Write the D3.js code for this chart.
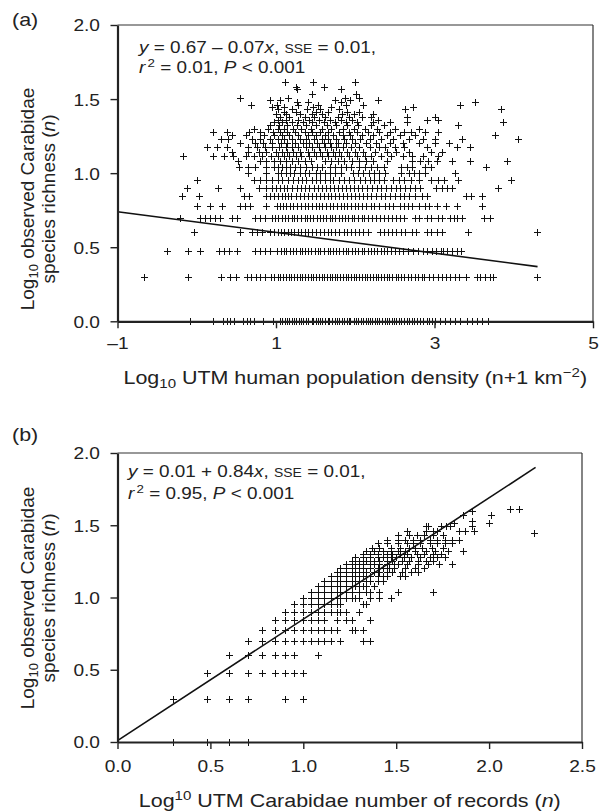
<!DOCTYPE html>
<html>
<head>
<meta charset="utf-8">
<style>
  body { margin: 0; background: #fff; }
  svg { font-family: "Liberation Sans", Arial, Helvetica, sans-serif; }
  .axis text { font-size: 16.5px; fill: #222; }
  .axis .domain { stroke: #222; stroke-width: 2.2; }
  .axis .tick line { stroke: #222; stroke-width: 1.4; }
  .mark { stroke: #111; stroke-width: 1; fill: none; }
</style>
</head>
<body>
<svg id="chart" width="599" height="811"></svg>
<script src="https://d3js.org/d3.v7.min.js"></script>
<script>
// ---- panel (a): species richness (count) per row, log10 population density per point
const aRichness = [1, 2, 3, 4, 5, 6, 7, 8, 9, 10, 11, 12, 13, 14, 15, 16, 17, 18, 19, 20,
  21, 22, 23, 24, 25, 26, 27, 28, 29, 30, 31, 32, 34, 37, 38, 41];
const aDensity = [
  [-0.09, 0.21, 0.33, 0.38, 0.42, 0.47, 0.58, 0.63, 0.67, 0.72, 0.84, 0.96, 1.05, 1.07, 1.11, 1.14, 1.16, 1.2, 1.23, 1.25,
    1.29, 1.32, 1.34, 1.38, 1.41, 1.45, 1.47, 1.5, 1.53, 1.56, 1.58, 1.62, 1.65, 1.67, 1.71, 1.74, 1.77, 1.79, 1.83, 1.86,
    1.89, 1.92, 1.94, 1.98, 2.01, 2.03, 2.07, 2.1, 2.13, 2.16, 2.19, 2.21, 2.25, 2.28, 2.3, 2.34, 2.37, 2.4, 2.42, 2.46,
    2.49, 2.52, 2.55, 2.58, 2.61, 2.65, 2.68, 2.72, 2.74, 2.78, 2.82, 2.85, 2.9, 2.93, 2.97, 3.0, 3.07, 3.13, 3.2, 3.26,
    3.32, 3.41, 3.47, 3.53, 3.6, 3.68],
  [-0.67, -0.11, 0.31, 0.42, 0.5, 0.64, 0.69, 0.75, 0.8, 0.86, 0.94, 0.98, 1.02, 1.05, 1.09, 1.13, 1.16, 1.19, 1.23, 1.27,
    1.3, 1.33, 1.36, 1.4, 1.44, 1.47, 1.5, 1.54, 1.58, 1.6, 1.64, 1.68, 1.71, 1.74, 1.77, 1.81, 1.85, 1.88, 1.91, 1.95,
    1.98, 2.01, 2.05, 2.09, 2.12, 2.15, 2.18, 2.22, 2.26, 2.29, 2.33, 2.36, 2.4, 2.43, 2.47, 2.51, 2.54, 2.58, 2.62, 2.66,
    2.7, 2.75, 2.79, 2.84, 2.87, 2.93, 2.98, 3.04, 3.1, 3.15, 3.2, 3.26, 3.31, 3.4, 3.53, 3.58, 3.64, 3.7, 3.74, 4.29],
  [-0.38, -0.11, 0.04, 0.28, 0.34, 0.41, 0.51, 0.74, 0.8, 0.86, 0.93, 1.01, 1.06, 1.1, 1.13, 1.18, 1.22, 1.25, 1.3, 1.33,
    1.37, 1.41, 1.44, 1.49, 1.53, 1.56, 1.6, 1.65, 1.68, 1.72, 1.76, 1.79, 1.84, 1.88, 1.91, 1.96, 2.0, 2.04, 2.08, 2.11,
    2.16, 2.2, 2.24, 2.27, 2.32, 2.36, 2.4, 2.45, 2.5, 2.55, 2.6, 2.66, 2.73, 2.79, 2.85, 2.91, 2.97, 3.02, 3.08, 3.11,
    3.16, 3.22, 3.28, 3.34],
  [-0.04, 0.55, 0.7, 0.76, 0.82, 0.92, 0.97, 1.02, 1.06, 1.1, 1.15, 1.19, 1.23, 1.28, 1.32, 1.36, 1.41, 1.45, 1.5, 1.55,
    1.61, 1.66, 1.7, 1.75, 1.8, 1.86, 1.9, 1.95, 2.0, 2.05, 2.1, 2.16, 2.31, 2.36, 2.41, 2.47, 2.52, 2.58, 2.63, 2.71,
    2.77, 2.9, 2.96, 3.03, 3.09, 3.42, 4.29],
  [-0.21, 0.04, 0.1, 0.17, 0.23, 0.29, 0.44, 0.51, 0.74, 0.8, 0.86, 0.95, 0.99, 1.03, 1.07, 1.11, 1.15, 1.2, 1.23, 1.27,
    1.31, 1.36, 1.39, 1.43, 1.47, 1.52, 1.55, 1.59, 1.63, 1.68, 1.71, 1.75, 1.8, 1.83, 1.87, 1.91, 1.96, 1.99, 2.03, 2.08,
    2.11, 2.16, 2.21, 2.26, 2.31, 2.36, 2.41, 2.46, 2.51, 2.56, 2.62, 2.75, 2.81, 2.9, 2.95, 3.04, 3.1, 3.19, 3.24, 3.29,
    3.35, 3.63, 3.7],
  [0.0, 0.17, 0.32, 0.55, 0.61, 0.67, 0.88, 1.01, 1.05, 1.09, 1.13, 1.18, 1.22, 1.27, 1.32, 1.36, 1.4, 1.45, 1.5, 1.54,
    1.58, 1.63, 1.68, 1.72, 1.77, 1.82, 1.86, 1.9, 1.95, 2.0, 2.04, 2.09, 2.14, 2.2, 2.24, 2.3, 2.38, 2.43, 2.48, 2.56,
    2.62, 2.66, 2.72, 2.8, 2.88, 2.93, 3.03, 3.15, 3.28, 3.6],
  [-0.19, 0.03, 0.6, 0.66, 0.88, 0.93, 0.98, 1.03, 1.07, 1.11, 1.15, 1.19, 1.25, 1.3, 1.35, 1.4, 1.45, 1.5, 1.55, 1.6,
    1.65, 1.7, 1.75, 1.8, 1.85, 1.9, 1.95, 2.0, 2.05, 2.1, 2.15, 2.2, 2.26, 2.32, 2.38, 2.44, 2.5, 2.56, 2.62, 2.68,
    2.75, 2.84, 2.9, 3.4, 3.46, 3.6],
  [-0.12, 0.27, 0.55, 0.78, 0.88, 0.95, 1.0, 1.05, 1.1, 1.14, 1.2, 1.27, 1.32, 1.37, 1.42, 1.48, 1.53, 1.58, 1.63, 1.68,
    1.73, 1.78, 1.83, 1.88, 1.93, 1.98, 2.03, 2.09, 2.15, 2.21, 2.27, 2.33, 2.39, 2.45, 2.51, 2.57, 2.63, 2.69, 2.75, 2.82,
    3.02, 3.1, 3.16, 3.22, 3.8],
  [0.0, 0.72, 0.8, 0.88, 0.95, 1.02, 1.08, 1.15, 1.22, 1.28, 1.33, 1.38, 1.45, 1.5, 1.56, 1.62, 1.68, 1.72, 1.8, 1.86,
    1.92, 1.98, 2.06, 2.12, 2.18, 2.24, 2.3, 2.36, 2.48, 2.55, 2.62, 2.7, 2.8, 2.96, 3.04, 3.12, 3.3, 3.96],
  [0.65, 0.88, 1.02, 1.06, 1.12, 1.18, 1.23, 1.3, 1.36, 1.42, 1.5, 1.56, 1.62, 1.68, 1.75, 1.82, 1.97, 2.03, 2.1, 2.17,
    2.24, 2.3, 2.37, 2.58, 2.68, 2.74, 2.8, 2.88, 3.26],
  [0.53, 0.65, 0.74, 0.88, 0.97, 1.02, 1.07, 1.12, 1.18, 1.24, 1.3, 1.38, 1.45, 1.52, 1.58, 1.68, 1.75, 1.82, 1.88, 1.95,
    2.05, 2.12, 2.2, 2.28, 2.36, 2.58, 2.65, 2.72, 2.88, 2.95, 3.65],
  [0.52, 0.8, 0.88, 0.97, 1.05, 1.12, 1.2, 1.28, 1.36, 1.44, 1.62, 1.7, 1.78, 1.86, 1.96, 2.05, 2.14, 2.22, 2.4, 2.72,
    2.82, 2.92, 3.03, 3.22, 3.45, 3.91],
  [-0.17, 0.21, 0.34, 0.46, 0.62, 0.72, 0.82, 0.94, 1.03, 1.1, 1.16, 1.25, 1.32, 1.42, 1.5, 1.58, 1.66, 1.74, 1.82, 1.92,
    2.02, 2.12, 2.2, 2.32, 2.45, 2.6, 2.72, 2.86, 3.05],
  [0.44, 0.65, 0.78, 0.88, 1.0, 1.08, 1.14, 1.22, 1.3, 1.4, 1.48, 1.55, 1.64, 1.72, 1.8, 1.9, 2.0, 2.1, 2.25, 2.4,
    2.52, 2.68, 2.95, 3.1],
  [0.13, 0.25, 0.38, 0.65, 0.76, 0.86, 0.95, 1.04, 1.12, 1.2, 1.28, 1.38, 1.46, 1.54, 1.62, 1.7, 1.76, 1.84, 1.95, 2.05,
    2.18, 2.3, 2.38, 2.5, 2.62, 2.9, 3.28, 3.45],
  [0.55, 0.74, 0.84, 0.95, 1.06, 1.14, 1.24, 1.34, 1.42, 1.52, 1.6, 1.68, 1.78, 1.88, 2.0, 2.14, 2.26, 2.44, 2.6, 2.8,
    3.0, 3.18],
  [0.31, 0.4, 0.7, 0.8, 0.92, 1.02, 1.1, 1.2, 1.3, 1.38, 1.48, 1.58, 1.66, 1.76, 1.86, 1.96, 2.06, 2.18, 2.32, 2.48,
    2.68, 2.86, 3.0, 3.35, 4.05],
  [0.45, 0.62, 0.85, 0.98, 1.08, 1.16, 1.28, 1.4, 1.5, 1.62, 1.72, 1.84, 1.94, 2.08, 2.22, 2.4, 2.56, 2.75, 3.76],
  [0.2, 0.38, 0.66, 0.8, 0.96, 1.05, 1.14, 1.24, 1.36, 1.46, 1.56, 1.66, 1.8, 1.92, 2.02, 2.16, 2.3, 2.44, 2.62, 2.7,
    2.88, 3.05],
  [0.72, 0.9, 1.02, 1.1, 1.22, 1.32, 1.44, 1.58, 1.7, 1.84, 1.98, 2.12, 2.28, 2.5, 2.8],
  [0.92, 1.04, 1.14, 1.26, 1.38, 1.5, 1.64, 1.76, 1.9, 2.04, 2.2, 2.36, 3.3],
  [0.98, 1.08, 1.2, 1.34, 1.46, 1.6, 1.74, 1.88, 2.02, 2.23, 2.44, 2.65, 3.86],
  [1.02, 1.12, 1.28, 1.42, 1.54, 1.68, 1.82, 1.96, 2.29, 2.9, 3.05],
  [1.05, 1.16, 1.36, 1.48, 1.62, 1.78, 1.92, 2.08, 2.2, 2.65, 3.0],
  [1.0, 1.12, 1.3, 1.45, 1.58, 1.83, 1.98, 2.23],
  [1.1, 1.25, 1.5, 1.65, 1.9, 2.05],
  [1.02, 1.2, 1.39, 1.56, 1.79, 2.63, 3.84],
  [0.95, 1.1, 1.47, 1.7, 2.73],
  [0.69, 1.01, 1.28, 1.53, 1.88, 2.1, 3.32],
  [1.26, 1.4, 1.82, 3.51],
  [0.92, 1.05, 1.75, 1.94, 2.29],
  [0.55, 1.15, 1.87, 2.05],
  [1.45, 2.01],
  [1.26, 1.82],
  [1.25, 1.6],
  [1.11, 1.47, 2.0]
];
const aFit = { intercept: 0.67, slope: -0.07, from: -1, to: 4.3 };
const aXTicks = [-1, 1, 3, 5];

// ---- panel (b): species richness (count) per row, log10 number of records per point
const bRichness = [1, 2, 3, 4, 5, 6, 7, 8, 9, 10, 11, 12, 13, 14, 15, 16, 17, 18, 19, 20,
  21, 22, 24, 25, 27, 28, 29, 31, 33, 34, 37, 40, 41];
const bRecords = [
  [0.3, 0.48, 0.6, 0.7],
  [0.3, 0.48, 0.6, 0.7, 0.9, 1.0],
  [0.48, 0.6, 0.7, 0.78, 0.85, 0.9, 0.95, 1.0],
  [0.6, 0.7, 0.78, 0.85, 0.9, 0.95, 1.08],
  [0.7, 0.78, 0.85, 0.9, 0.95, 1.0, 1.04, 1.08, 1.11, 1.15, 1.2, 1.32, 1.36],
  [0.78, 0.85, 0.9, 0.95, 1.0, 1.04, 1.08, 1.11, 1.15, 1.18, 1.26, 1.28, 1.32],
  [0.85, 0.9, 0.95, 1.0, 1.04, 1.08, 1.11, 1.18, 1.23, 1.26, 1.36],
  [0.9, 0.95, 1.0, 1.04, 1.08, 1.11, 1.15, 1.18, 1.2, 1.23, 1.3],
  [0.95, 1.0, 1.04, 1.08, 1.11, 1.15, 1.18, 1.2, 1.32, 1.34],
  [1.0, 1.04, 1.08, 1.11, 1.15, 1.18, 1.2, 1.23, 1.26, 1.28, 1.3, 1.36, 1.41, 1.47],
  [1.04, 1.08, 1.11, 1.15, 1.18, 1.2, 1.23, 1.26, 1.3, 1.34, 1.36, 1.41, 1.51, 1.7],
  [1.08, 1.11, 1.15, 1.18, 1.2, 1.23, 1.26, 1.28, 1.3, 1.32, 1.34, 1.38],
  [1.11, 1.15, 1.18, 1.2, 1.23, 1.26, 1.28, 1.3, 1.34, 1.36, 1.4, 1.43],
  [1.15, 1.18, 1.2, 1.23, 1.26, 1.28, 1.3, 1.32, 1.36, 1.4, 1.43, 1.45, 1.52, 1.55],
  [1.18, 1.2, 1.23, 1.26, 1.28, 1.3, 1.34, 1.38, 1.41, 1.45, 1.48, 1.53, 1.58, 1.62],
  [1.2, 1.23, 1.26, 1.3, 1.32, 1.36, 1.4, 1.43, 1.46, 1.49, 1.55, 1.6, 1.65],
  [1.23, 1.26, 1.28, 1.32, 1.36, 1.38, 1.41, 1.45, 1.49, 1.51, 1.56, 1.62, 1.67, 1.73, 1.8],
  [1.26, 1.3, 1.34, 1.38, 1.41, 1.45, 1.48, 1.53, 1.57, 1.62, 1.66, 1.7],
  [1.28, 1.32, 1.36, 1.4, 1.43, 1.47, 1.5, 1.54, 1.58, 1.63, 1.68, 1.72, 1.76],
  [1.32, 1.36, 1.4, 1.45, 1.48, 1.52, 1.56, 1.61, 1.65, 1.7, 1.74],
  [1.34, 1.38, 1.43, 1.47, 1.51, 1.55, 1.6, 1.66, 1.71, 1.78, 1.86],
  [1.37, 1.41, 1.47, 1.52, 1.57, 1.6, 1.64, 1.69, 1.75],
  [1.4, 1.45, 1.51, 1.56, 1.59, 1.63, 1.68, 1.72, 1.76, 1.8],
  [1.45, 1.51, 1.55, 1.59, 1.63, 1.68, 1.72, 1.76, 1.8, 1.84],
  [1.51, 1.57, 1.61, 1.65, 1.7, 1.75],
  [2.24],
  [1.56, 1.66, 1.7, 1.72, 1.84, 1.87, 1.92],
  [1.66, 1.67, 1.74, 1.77, 1.79, 1.91],
  [1.81, 2.0],
  [1.91],
  [1.86, 2.01],
  [1.91],
  [2.11, 2.16]
];
const bFit = { intercept: 0.01, slope: 0.84, from: 0, to: 2.25 };
const bXTicks = [0, 0.5, 1, 1.5, 2, 2.5];
const yTicks = [0, 0.5, 1, 1.5, 2];

const svg = d3.select("#chart");
const STRETCH = 1.16; // horizontal text stretch seen in the original

function toPoints(richness, rows) {
  const pts = [];
  richness.forEach((k, i) => {
    rows[i].forEach(x => pts.push({ x: x, y: Math.log10(k) }));
  });
  return pts;
}

function label(x, y, size, anchor) {
  return svg.append("text")
    .attr("transform", "translate(" + x + "," + y + ") scale(" + STRETCH + ",1)")
    .attr("text-anchor", anchor || "start")
    .attr("font-size", size).attr("fill", "#222");
}

function drawPanel(opt) {
  const x = d3.scaleLinear().domain(opt.xDomain).range([opt.left, opt.right]);
  const y = d3.scaleLinear().domain([0, 2]).range([opt.bottom, opt.top]);
  const g = svg.append("g");

  // thin frame on top and right
  g.append("line").attr("x1", opt.left).attr("x2", opt.right).attr("y1", opt.top).attr("y2", opt.top)
    .attr("stroke", "#333").attr("stroke-width", 1.2);
  g.append("line").attr("x1", opt.right).attr("x2", opt.right).attr("y1", opt.top).attr("y2", opt.bottom)
    .attr("stroke", "#333").attr("stroke-width", 1.2);

  // points as "+" marks, snapped to the pixel grid
  g.selectAll("path.mark")
    .data(opt.points)
    .join("path")
    .attr("class", "mark")
    .attr("d", d => {
      const px = Math.round(x(d.x)) + 0.5, py = Math.round(y(d.y)) + 0.5;
      return "M" + (px - 3.5) + "," + py + "h7M" + px + "," + (py - 3.5) + "v7";
    });

  // fitted line
  g.append("line")
    .attr("x1", x(opt.fit.from)).attr("y1", y(opt.fit.intercept + opt.fit.slope * opt.fit.from))
    .attr("x2", x(opt.fit.to)).attr("y2", y(opt.fit.intercept + opt.fit.slope * opt.fit.to))
    .attr("stroke", "#111").attr("stroke-width", 1.6);

  g.append("g").attr("class", "axis")
    .attr("transform", "translate(" + opt.left + ",0)")
    .call(d3.axisLeft(y).tickValues(yTicks).tickFormat(d3.format(".1f")).tickSize(7).tickSizeOuter(0))
    .selectAll(".tick text")
    .attr("x", -17.5 / STRETCH).attr("dy", "0.36em")
    .attr("transform", "scale(" + STRETCH + ",1)");

  g.append("g").attr("class", "axis")
    .attr("transform", "translate(0," + opt.bottom + ")")
    .call(d3.axisBottom(x).tickValues(opt.xTicks).tickFormat(opt.xFormat).tickSize(7).tickSizeOuter(0).tickPadding(opt.xPad))
    .selectAll(".tick text")
    .attr("transform", "scale(" + STRETCH + ",1)");

  // panel letter
  label(12, opt.letterY, 18.5).text(opt.letter);

  // equation text
  const eq = label(opt.eqX, opt.eqY1, 16.3);
  eq.append("tspan").attr("font-style", "italic").text("y");
  eq.append("tspan").text(opt.eq1);
  eq.append("tspan").attr("font-style", "italic").text("x");
  eq.append("tspan").text(", ");
  eq.append("tspan").attr("font-size", 12).text("SSE");
  eq.append("tspan").text(" = 0.01,");

  const eq2 = label(opt.eqX, opt.eqY2, 16.3);
  eq2.append("tspan").attr("font-style", "italic").text("r");
  eq2.append("tspan").attr("font-size", 11.5).attr("dy", -6).attr("dx", 2).text("2");
  eq2.append("tspan").attr("dy", 6).text(" = " + opt.r2 + ", ");
  eq2.append("tspan").attr("font-style", "italic").text("P");
  eq2.append("tspan").text(" < 0.001");

  // y title (two rotated lines)
  const cy = opt.yTitleCenter;
  const t1 = svg.append("text").attr("transform", "translate(34," + cy + ") rotate(-90)")
    .attr("text-anchor", "middle").attr("font-size", 19).attr("fill", "#222");
  t1.append("tspan").text("Log");
  t1.append("tspan").attr("font-size", 13).attr("dy", 4).text("10");
  t1.append("tspan").attr("dy", -4).text(" observed Carabidae");
  const t2 = svg.append("text").attr("transform", "translate(55," + cy + ") rotate(-90)")
    .attr("text-anchor", "middle").attr("font-size", 19).attr("fill", "#222");
  t2.append("tspan").text("species richness (");
  t2.append("tspan").attr("font-style", "italic").text("n");
  t2.append("tspan").text(")");

  // x title
  const xt = label((opt.left + opt.right) / 2, opt.xTitleY, 18.5, "middle");
  opt.xTitle(xt);
}

drawPanel({
  letter: "(a)", letterY: 26, left: 117.5, right: 593, top: 25, bottom: 321.3,
  xDomain: [-1, 5], xTicks: aXTicks, xPad: 9,
  xFormat: d => d < 0 ? "\u2013" + Math.abs(d) : String(d),
  points: toPoints(aRichness, aDensity), fit: aFit,
  eqX: 139, eqY1: 53, eqY2: 73, eq1: " = 0.67 \u2013 0.07", r2: "0.01",
  yTitleCenter: 199, xTitleY: 384,
  xTitle: t => {
    t.append("tspan").text("Log");
    t.append("tspan").attr("font-size", 13).attr("dy", 4).text("10");
    t.append("tspan").attr("dy", -4).text(" UTM human population density (n+1 km");
    t.append("tspan").attr("font-size", 13).attr("dy", -7).text("\u22122");
    t.append("tspan").attr("dy", 7).text(")");
  }
});

drawPanel({
  letter: "(b)", letterY: 441, left: 117.5, right: 582, top: 453, bottom: 742,
  xDomain: [0, 2.5], xTicks: bXTicks, xPad: 11,
  xFormat: d3.format(".1f"),
  points: toPoints(bRichness, bRecords), fit: bFit,
  eqX: 128, eqY1: 477, eqY2: 499, eq1: " = 0.01 + 0.84", r2: "0.95",
  yTitleCenter: 598, xTitleY: 807,
  xTitle: t => {
    t.append("tspan").text("Log");
    t.append("tspan").attr("font-size", 13).attr("dy", -7).text("10");
    t.append("tspan").attr("dy", 7).text(" UTM Carabidae number of records (");
    t.append("tspan").attr("font-style", "italic").text("n");
    t.append("tspan").text(")");
  }
});
</script>
</body>
</html>
